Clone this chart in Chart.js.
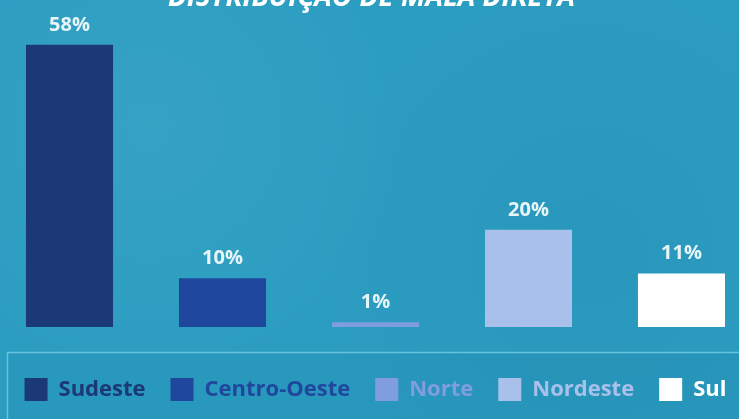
<!DOCTYPE html>
<html>
<head>
<meta charset="utf-8">
<script src="https://cdn.jsdelivr.net/npm/chart.js@4.4.0/dist/chart.umd.min.js"></script>
<style>
  html, body { margin: 0; padding: 0; width: 739px; height: 419px; overflow: hidden; }
  body {
    background-color: #2b9dc1;
    background-image:
      radial-gradient(circle at 20% 30%, rgba(255,255,255,0.05), transparent 40%),
      radial-gradient(circle at 80% 60%, rgba(0,40,80,0.05), transparent 45%);
    position: relative;
  }
  #wrap { position: absolute; left: -7px; top: 0; width: 765px; height: 419px; }
</style>
</head>
<body>
<div id="wrap"><canvas id="chartcontainer"></canvas></div>
<script>
// dados do gráfico
var titulo = "DISTRIBUIÇÃO DE MALA DIRETA";
var regioes = ["Sudeste", "Centro-Oeste", "Norte", "Nordeste", "Sul"];
var percentuais = [58, 10, 1, 20, 11];
var eixoMax = 60;

var cores = ["#1b3877", "#1f479d", "#7f9ddf", "#a8c0ea", "#ffffff"];
var fonte = "'Open Sans', 'DejaVu Sans', sans-serif";

// titulo (cortado no topo) + moldura da legenda
var fundoPlugin = {
  id: "fundo",
  beforeDraw: function(chart) {
    var ctx = chart.ctx;
    var leg = chart.legend;
    ctx.save();
    ctx.fillStyle = "rgba(0, 50, 90, 0.05)";
    ctx.fillRect(14, leg.top, chart.width, chart.height - leg.top);
    ctx.strokeStyle = "rgba(120, 205, 230, 0.8)";
    ctx.lineWidth = 1.5;
    ctx.beginPath();
    ctx.moveTo(chart.width + 5, leg.top - 0.5);
    ctx.lineTo(14.5, leg.top - 0.5);
    ctx.lineTo(14.5, chart.height + 5);
    ctx.stroke();
    ctx.restore();
  },
  afterDraw: function(chart) {
    var ctx = chart.ctx;
    ctx.save();
    ctx.font = "italic bold 28px " + fonte;
    ctx.fillStyle = "#ffffff";
    ctx.textAlign = "center";
    ctx.textBaseline = "alphabetic";
    ctx.fillText(titulo, chart.width / 2 - 4, 6);
    ctx.restore();
  }
};

// rotulos de valor em cima das barras
var rotulosPlugin = {
  id: "rotulos",
  afterDatasetsDraw: function(chart) {
    var ctx = chart.ctx;
    var meta = chart.getDatasetMeta(0);
    ctx.save();
    ctx.font = "bold 20px " + fonte;
    ctx.fillStyle = "#e8f5f8";
    ctx.textAlign = "center";
    ctx.textBaseline = "alphabetic";
    meta.data.forEach(function(bar, i) {
      ctx.fillText(percentuais[i] + "%", bar.x, bar.y - 14);
    });
    ctx.restore();
  }
};

var ctx = document.getElementById("chartcontainer").getContext("2d");
var chart = new Chart(ctx, {
  type: "bar",
  data: {
    labels: regioes,
    datasets: [{
      data: percentuais,
      backgroundColor: cores,
      borderWidth: 0,
      categoryPercentage: 1,
      barPercentage: 0.569
    }]
  },
  options: {
    responsive: true,
    maintainAspectRatio: false,
    animation: false,
    layout: { padding: { top: 35, bottom: 8, left: 0, right: 0 } },
    scales: {
      x: {
        display: true,
        grid: { display: false },
        border: { display: false },
        ticks: { display: false },
        afterFit: function(scale) { scale.height = 26; }
      },
      y: {
        display: false,
        min: 0,
        max: eixoMax
      }
    },
    plugins: {
      tooltip: { enabled: false },
      title: { display: false },
      legend: {
        display: true,
        position: "bottom",
        labels: {
          boxWidth: 23,
          boxHeight: 23,
          padding: 25,
          font: { family: fonte, size: 22, weight: "bold" },
          generateLabels: function(chart) {
            return regioes.map(function(r, i) {
              return {
                text: r,
                fillStyle: cores[i],
                strokeStyle: cores[i],
                fontColor: cores[i],
                lineWidth: 0,
                hidden: false,
                index: i
              };
            });
          }
        }
      }
    }
  },
  plugins: [fundoPlugin, rotulosPlugin]
});
</script>
</body>
</html>
